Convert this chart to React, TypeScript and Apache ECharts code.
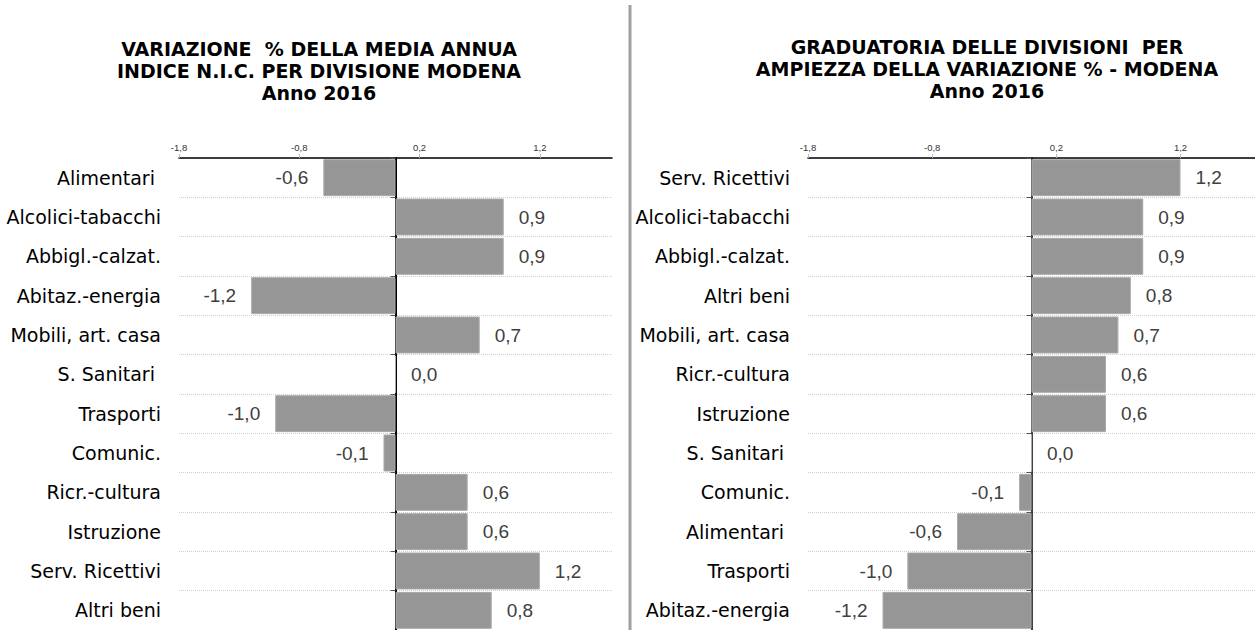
import React, { useEffect, useRef } from "react";
import * as echarts from "echarts";

const leftCategories = [
  "Alimentari ",
  "Alcolici-tabacchi",
  "Abbigl.-calzat.",
  "Abitaz.-energia",
  "Mobili, art. casa",
  "S. Sanitari ",
  "Trasporti",
  "Comunic.",
  "Ricr.-cultura",
  "Istruzione",
  "Serv. Ricettivi",
  "Altri beni",
];
const leftValues = [-0.6, 0.9, 0.9, -1.2, 0.7, 0.0, -1.0, -0.1, 0.6, 0.6, 1.2, 0.8];

const rightCategories = [
  "Serv. Ricettivi",
  "Alcolici-tabacchi",
  "Abbigl.-calzat.",
  "Altri beni",
  "Mobili, art. casa",
  "Ricr.-cultura",
  "Istruzione",
  "S. Sanitari ",
  "Comunic.",
  "Alimentari ",
  "Trasporti",
  "Abitaz.-energia",
];
const rightValues = [1.2, 0.9, 0.9, 0.8, 0.7, 0.6, 0.6, 0.0, -0.1, -0.6, -1.0, -1.2];

const axisMin = -1.8;
const axisMax = 1.8;
const axisInterval = 1;

const leftTitle = "VARIAZIONE  % DELLA MEDIA ANNUA\nINDICE N.I.C. PER DIVISIONE MODENA\nAnno 2016";
const rightTitle = "GRADUATORIA DELLE DIVISIONI  PER\nAMPIEZZA DELLA VARIAZIONE % - MODENA\nAnno 2016";

const fmt = (v: number) => v.toFixed(1).replace(".", ",");

export default function App() {
  const ref = useRef<HTMLDivElement>(null);
  useEffect(() => {
    if (!ref.current) return;
    const chart = echarts.init(ref.current, undefined, { renderer: "svg" });

    const makeX = (gridIndex: number) => ({
      type: "value",
      gridIndex,
      position: "top",
      min: axisMin,
      max: axisMax,
      interval: axisInterval,
      axisLine: { show: true, onZero: false, lineStyle: { color: "#000", width: 1.5 } },
      axisTick: { show: true, length: 4, lineStyle: { color: "#bbb" } },
      axisLabel: {
        formatter: (v: number) => fmt(v),
        fontSize: 9.5,
        color: "#333",
        fontFamily: "Liberation Sans",
        margin: 6,
        showMaxLabel: false,
      },
      splitLine: { show: false },
    });

    const makeYLabels = (gridIndex: number, cats: string[], margin: number) => ({
      type: "category",
      gridIndex,
      position: "left",
      inverse: true,
      data: cats,
      axisLine: { show: false, onZero: false },
      axisTick: { show: false },
      axisLabel: {
        fontSize: 19,
        color: "#000",
        fontFamily: "DejaVu Sans",
        margin,
      },
      splitLine: { show: true, lineStyle: { color: "#d0d0d0", type: "dotted", width: 1 } },
    });

    const makeYZero = (gridIndex: number, cats: string[], w: number) => ({
      type: "category",
      gridIndex,
      position: "left",
      inverse: true,
      data: cats,
      axisLine: { show: true, onZero: true, lineStyle: { color: "#000", width: w } },
      axisTick: { show: true, length: 5, lineStyle: { color: "#555" } },
      axisLabel: { show: false },
      splitLine: { show: false },
    });

    const makeData = (vals: number[]) =>
      vals.map((v) => ({
        value: v,
        label: { position: v < 0 ? "left" : "right" },
      }));

    const makeSeries = (xi: number, yi: number, vals: number[]) => ({
      type: "bar",
      xAxisIndex: xi,
      yAxisIndex: yi,
      data: makeData(vals),
      barCategoryGap: "6%",
      itemStyle: { color: "#969696", borderColor: "#aaaaaa", borderWidth: 1 },
      label: {
        show: true,
        distance: 15,
        formatter: (p: any) => fmt(p.value),
        fontSize: 19,
        color: "#404040",
        fontFamily: "Liberation Sans",
      },
      z: 1,
    });

    const titleStyle = {
      fontSize: 19,
      fontWeight: "bold",
      fontFamily: "DejaVu Sans",
      color: "#000",
      lineHeight: 22,
      align: "center",
    };

    chart.setOption({
      animation: false,
      backgroundColor: "#fff",
      title: [
        { text: leftTitle, left: 314, top: 33, textAlign: "center", textStyle: titleStyle },
        { text: rightTitle, left: 982, top: 31, textAlign: "center", textStyle: titleStyle },
      ],
      grid: [
        { left: 179, right: 643, top: 158, bottom: 0 },
        { left: 808, right: 0, top: 158, bottom: 0 },
      ],
      xAxis: [makeX(0), makeX(1)],
      yAxis: [
        makeYLabels(0, leftCategories, 18),
        makeYZero(0, leftCategories, 2),
        makeYLabels(1, rightCategories, 18),
        makeYZero(1, rightCategories, 1.5),
      ],
      series: [makeSeries(0, 0, leftValues), makeSeries(1, 2, rightValues)],
      graphic: [
        {
          type: "line",
          shape: { x1: 630, y1: 5, x2: 630, y2: 630 },
          style: { stroke: "#a0a0a0", lineWidth: 3 },
        },
      ],
    });
    return () => chart.dispose();
  }, []);
  return (
    <div
      ref={ref}
      style={{ position: "fixed", left: 0, top: 0, width: 1255, height: 630 }}
    />
  );
}
